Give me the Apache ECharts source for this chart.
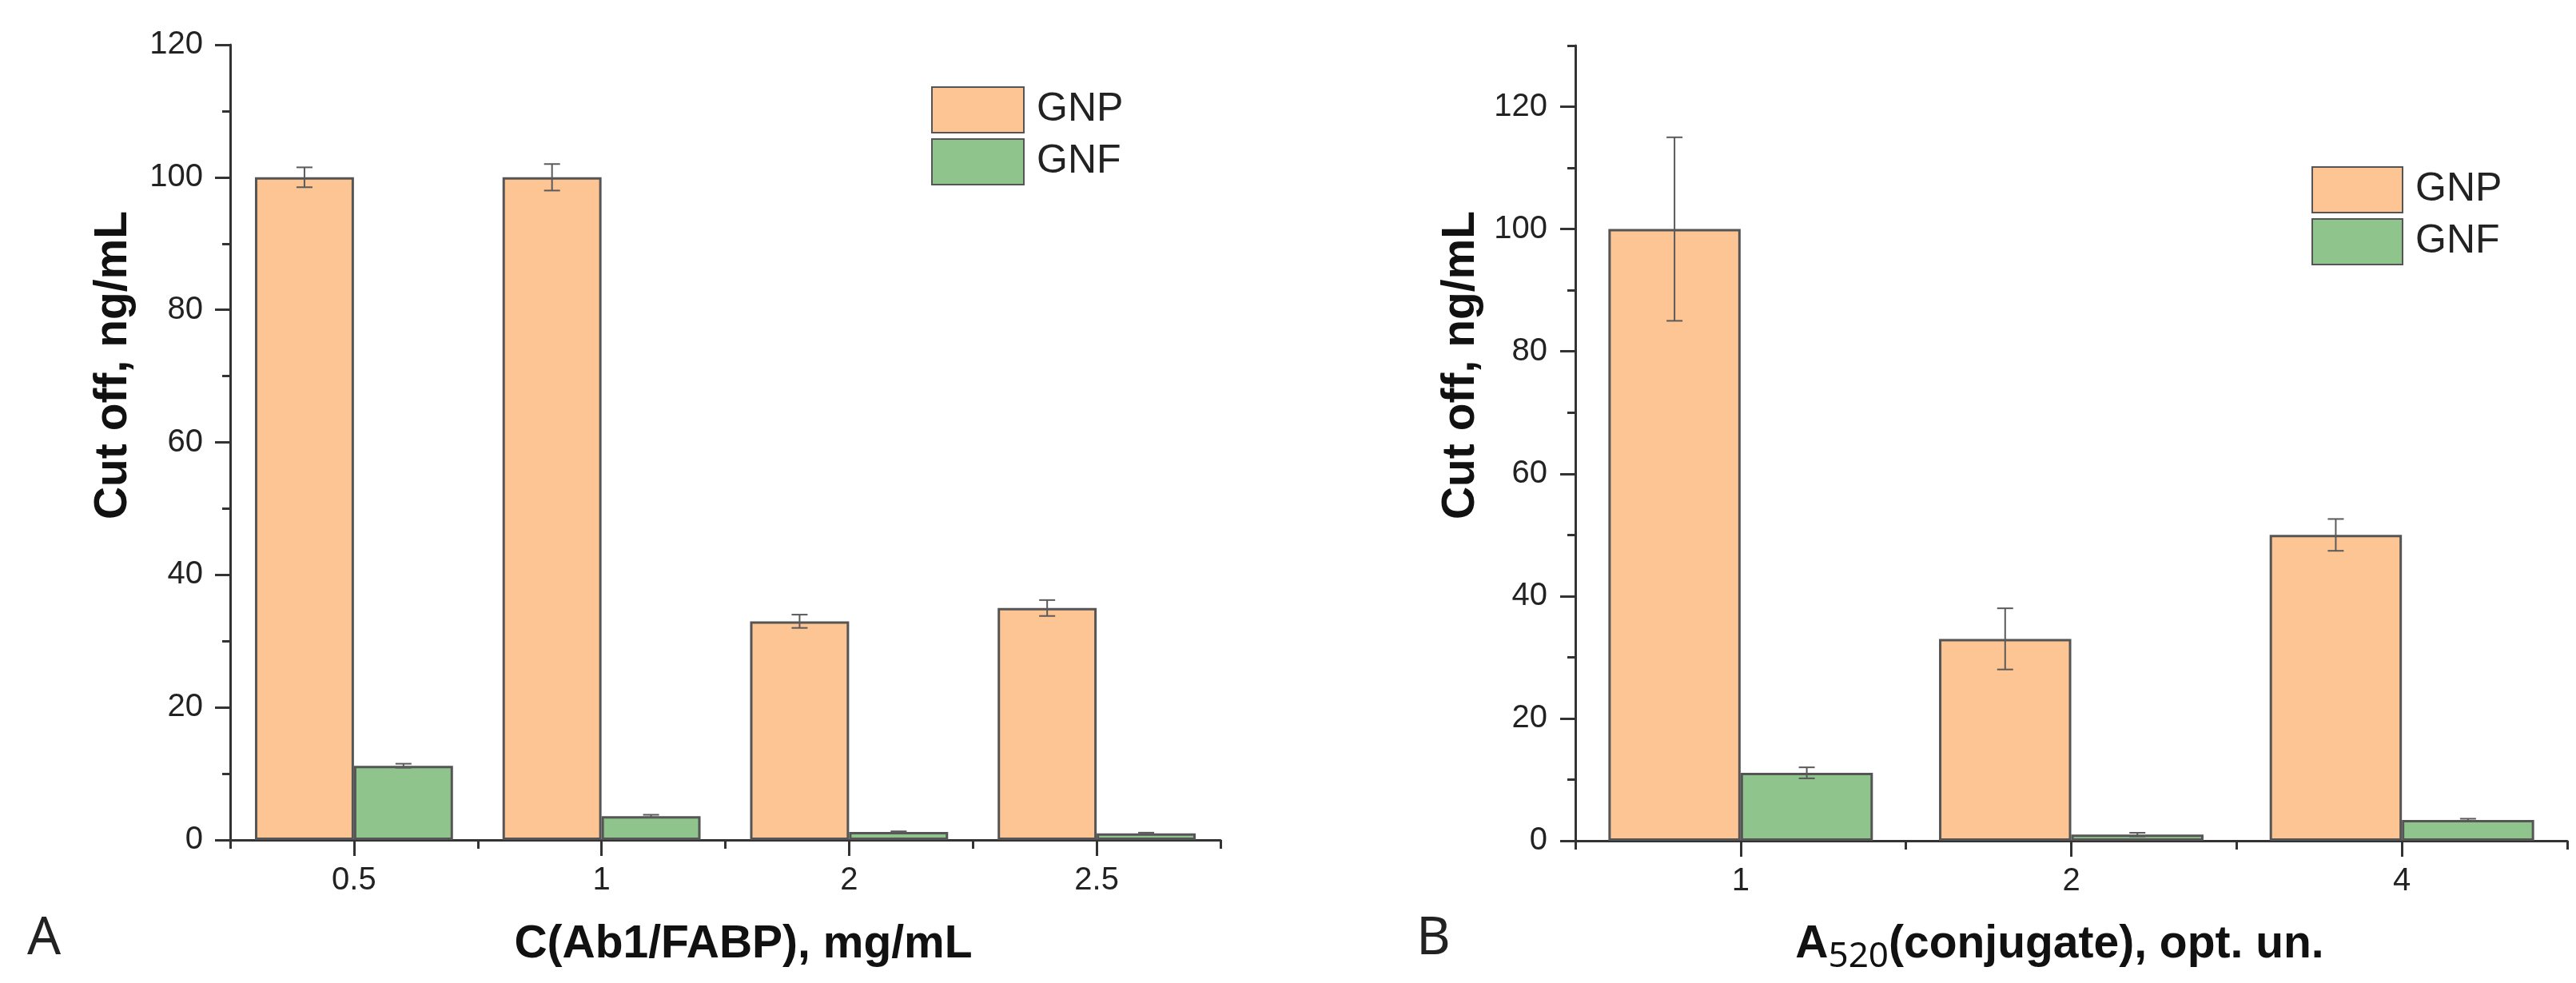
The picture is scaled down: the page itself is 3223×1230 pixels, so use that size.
<!DOCTYPE html>
<html>
<head>
<meta charset="utf-8">
<script src="https://cdn.jsdelivr.net/npm/echarts@6/dist/echarts.min.js"></script>
<style>
  html, body { margin: 0; padding: 0; background: #fff; }
  #chart { width: 3223px; height: 1230px; }
</style>
</head>
<body>
<div id="chart"></div>
<script>
// panel A
const catsA = ["0.5", "1", "2", "2.5"];
const gnpA = [100, 100, 33, 35];
const gnpErrA = [1.5, 2, 1, 1.2];
const gnfA = [11.2, 3.6, 1.2, 1.0];
const gnfErrA = [0.3, 0.2, 0.1, 0.1];
const yTicksA = [0, 20, 40, 60, 80, 100, 120];

// panel B
const catsB = ["1", "2", "4"];
const gnpB = [100, 33, 50];
const gnpErrB = [15, 5, 2.6];
const gnfB = [11.1, 1.0, 3.4];
const gnfErrB = [0.9, 0.3, 0.2];
const yTicksB = [0, 20, 40, 60, 80, 100, 120];

const FONT = "Liberation Sans, Arial, sans-serif";
const TITLE_FONT = "bold 57px " + FONT;
const SUB_FONT = "44px Noto Sans";
const AXIS_COLOR = "#333";
const GNP_COLOR = "#FDC594";
const GNF_COLOR = "#8FC48C";

const chart = echarts.init(document.getElementById("chart"));

// rows for the error bar series: [category index, value, error, side]
function errRows(vals, errs, side) {
  return vals.map((v, i) => [i, v, errs[i], side]);
}

function renderErr(params, api) {
  const idx = api.value(0);
  const v = api.value(1);
  const e = api.value(2);
  const band = api.size([1, 0])[0];
  const x = api.coord([idx, v])[0] + api.value(3) * band * 0.2;
  const top = api.coord([idx, v + e])[1];
  const bot = api.coord([idx, Math.max(v - e, 0)])[1];
  const hw = 10;
  const st = { stroke: "#5a5a5a", lineWidth: 2 };
  return {
    type: "group",
    children: [
      { type: "line", shape: { x1: x, y1: top, x2: x, y2: bot }, style: st },
      { type: "line", shape: { x1: x - hw, y1: top, x2: x + hw, y2: top }, style: st },
      { type: "line", shape: { x1: x - hw, y1: bot, x2: x + hw, y2: bot }, style: st },
    ],
  };
}

function boundaryAxis(grid, cats) {
  return {
    type: "category",
    gridIndex: grid,
    position: "bottom",
    data: cats,
    boundaryGap: true,
    axisLine: { show: true, onZero: false, lineStyle: { color: AXIS_COLOR, width: 3 } },
    axisTick: { show: true, length: 11, lineStyle: { color: AXIS_COLOR, width: 3 } },
    axisLabel: { show: false },
    splitLine: { show: false },
  };
}

function labelAxis(grid, cats) {
  return {
    type: "category",
    gridIndex: grid,
    position: "bottom",
    data: cats,
    boundaryGap: true,
    axisLine: { show: false },
    axisTick: { show: true, alignWithLabel: true, length: 20, lineStyle: { color: AXIS_COLOR, width: 3 } },
    axisLabel: { show: true, margin: 31, fontFamily: FONT, fontSize: 40, color: "#222" },
    splitLine: { show: false },
  };
}

const barStyle = (color) => ({ color: color, borderColor: "#555", borderWidth: 3 });

// x title of panel B: "A" + subscript "520" + rest, laid out side by side
const measure = document.createElement("canvas").getContext("2d");
function textWidth(str, font) {
  measure.font = font;
  return measure.measureText(str).width;
}
const titleB = ["A", "520", "(conjugate), opt. un."];
const wA = textWidth(titleB[0], TITLE_FONT);
const wSub = textWidth(titleB[1], SUB_FONT);
const wRest = textWidth(titleB[2], TITLE_FONT);
const titleBLeft = 2577 - (wA + wSub + wRest) / 2;

const option = {
  backgroundColor: "#fff",
  animation: false,
  grid: [
    { left: 288, top: 56, width: 1239, height: 995 },
    { left: 1971, top: 57, width: 1241, height: 995 },
  ],
  legend: [
    {
      data: ["GNP", "GNF"],
      orient: "vertical",
      left: 1160,
      top: 103,
      itemWidth: 115,
      itemHeight: 57,
      itemGap: 6,
      icon: "rect",
      textStyle: { fontFamily: FONT, fontSize: 50, color: "#222", padding: [0, 0, 0, 11] },
    },
    {
      data: ["GNP", "GNF"],
      orient: "vertical",
      left: 2887,
      top: 203,
      itemWidth: 113,
      itemHeight: 57,
      itemGap: 6,
      icon: "rect",
      textStyle: { fontFamily: FONT, fontSize: 50, color: "#222", padding: [0, 0, 0, 11] },
    },
  ],
  xAxis: [boundaryAxis(0, catsA), labelAxis(0, catsA), boundaryAxis(1, catsB), labelAxis(1, catsB)],
  yAxis: [
    {
      type: "value",
      gridIndex: 0,
      position: "left",
      min: 0,
      max: 120,
      interval: 20,
      axisLine: { show: true, onZero: false, lineStyle: { color: AXIS_COLOR, width: 3 } },
      axisTick: { show: true, length: 19, lineStyle: { color: AXIS_COLOR, width: 3 } },
      minorTick: { show: true, splitNumber: 2, length: 10, lineStyle: { color: AXIS_COLOR, width: 3 } },
      axisLabel: { margin: 34, fontFamily: FONT, fontSize: 40, color: "#222", customValues: yTicksA },
      splitLine: { show: false },
    },
    {
      // minor ticks of panel B
      type: "value",
      gridIndex: 1,
      position: "left",
      min: 0,
      max: 130,
      interval: 10,
      axisLine: { show: true, onZero: false, lineStyle: { color: AXIS_COLOR, width: 3 } },
      axisTick: { show: true, length: 10, lineStyle: { color: AXIS_COLOR, width: 3 } },
      axisLabel: { show: false },
      splitLine: { show: false },
    },
    {
      // major ticks + labels of panel B
      type: "value",
      gridIndex: 1,
      position: "left",
      min: 0,
      max: 130,
      interval: 10,
      axisLine: { show: false },
      axisTick: { show: true, length: 19, customValues: yTicksB, lineStyle: { color: AXIS_COLOR, width: 3 } },
      axisLabel: { margin: 35, fontFamily: FONT, fontSize: 40, color: "#222", customValues: yTicksB },
      splitLine: { show: false },
    },
  ],
  series: [
    { name: "GNP", type: "bar", xAxisIndex: 0, yAxisIndex: 0, data: gnpA, barWidth: "40%", barGap: "0%", itemStyle: barStyle(GNP_COLOR) },
    { name: "GNF", type: "bar", xAxisIndex: 0, yAxisIndex: 0, data: gnfA, barWidth: "40%", barGap: "0%", itemStyle: barStyle(GNF_COLOR) },
    { name: "GNP", type: "bar", xAxisIndex: 2, yAxisIndex: 1, data: gnpB, barWidth: "40%", barGap: "0%", itemStyle: barStyle(GNP_COLOR) },
    { name: "GNF", type: "bar", xAxisIndex: 2, yAxisIndex: 1, data: gnfB, barWidth: "40%", barGap: "0%", itemStyle: barStyle(GNF_COLOR) },
    { type: "custom", xAxisIndex: 0, yAxisIndex: 0, z: 5, renderItem: renderErr, data: errRows(gnpA, gnpErrA, -1) },
    { type: "custom", xAxisIndex: 0, yAxisIndex: 0, z: 5, renderItem: renderErr, data: errRows(gnfA, gnfErrA, 1) },
    { type: "custom", xAxisIndex: 2, yAxisIndex: 1, z: 5, renderItem: renderErr, data: errRows(gnpB, gnpErrB, -1) },
    { type: "custom", xAxisIndex: 2, yAxisIndex: 1, z: 5, renderItem: renderErr, data: errRows(gnfB, gnfErrB, 1) },
  ],
  graphic: [
    {
      type: "text", x: 142, y: 457, rotation: Math.PI / 2,
      style: { text: "Cut off, ng/mL", font: TITLE_FONT, fill: "#111", align: "center", verticalAlign: "middle" },
    },
    {
      type: "text", x: 1828, y: 457, rotation: Math.PI / 2,
      style: { text: "Cut off, ng/mL", font: TITLE_FONT, fill: "#111", align: "center", verticalAlign: "middle" },
    },
    {
      type: "text", x: 930, y: 1182,
      style: { text: "C(Ab1/FABP), mg/mL", font: TITLE_FONT, fill: "#111", align: "center", verticalAlign: "middle" },
    },
    {
      type: "text", x: titleBLeft, y: 1182,
      style: { text: titleB[0], font: TITLE_FONT, fill: "#111", align: "left", verticalAlign: "middle" },
    },
    {
      type: "text", x: titleBLeft + wA, y: 1197,
      style: { text: titleB[1], font: SUB_FONT, fill: "#111", align: "left", verticalAlign: "middle" },
    },
    {
      type: "text", x: titleBLeft + wA + wSub, y: 1182,
      style: { text: titleB[2], font: TITLE_FONT, fill: "#111", align: "left", verticalAlign: "middle" },
    },
    {
      type: "text", x: 34, y: 1175,
      style: { text: "A", font: "66px Noto Sans", fill: "#222", align: "left", verticalAlign: "middle" },
    },
    {
      type: "text", x: 1772, y: 1175,
      style: { text: "B", font: "66px Noto Sans", fill: "#222", align: "left", verticalAlign: "middle" },
    },
  ],
};

chart.setOption(option);
</script>
</body>
</html>
